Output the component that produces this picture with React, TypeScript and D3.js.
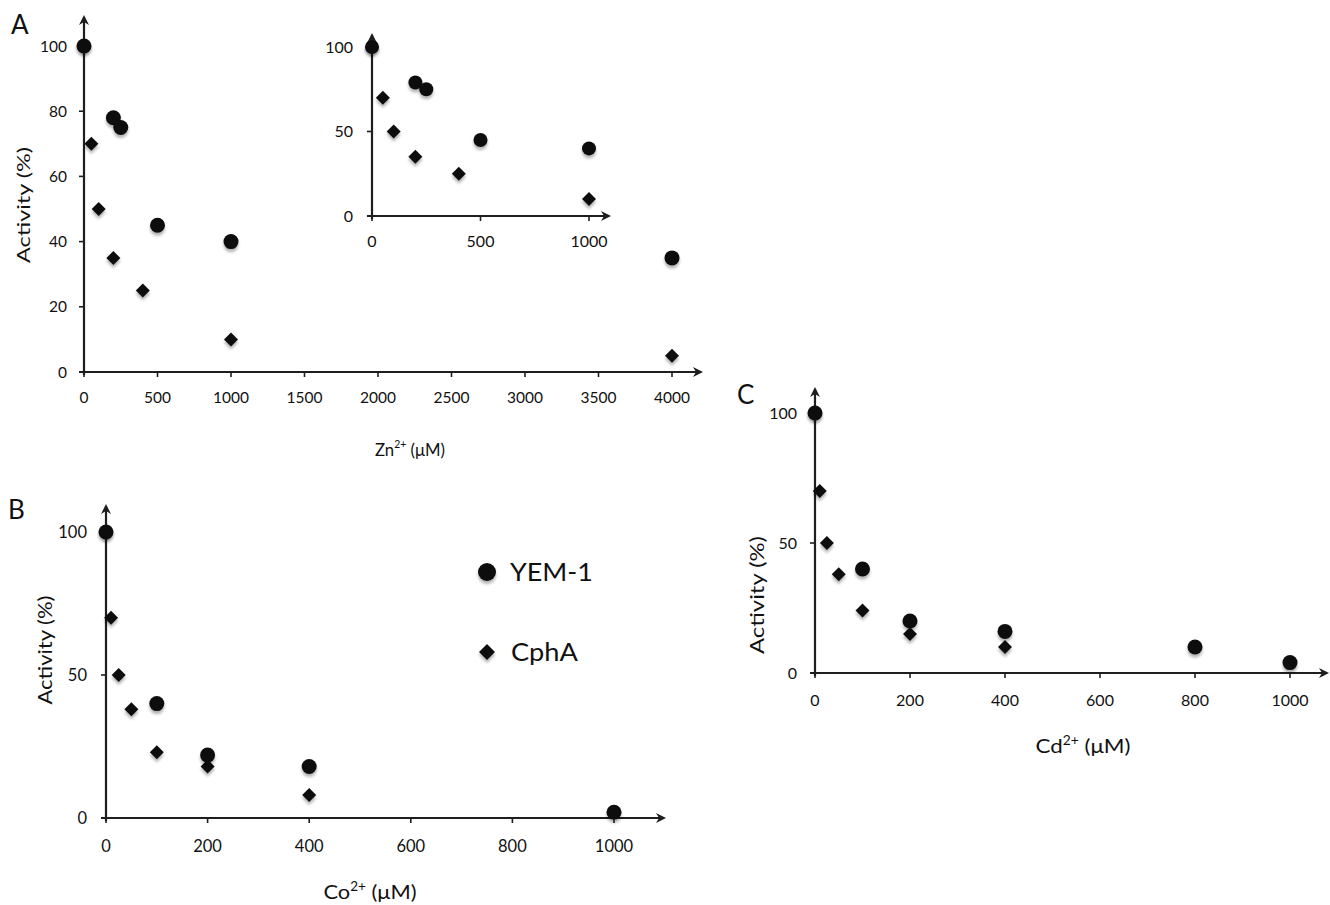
import React from "react";
import * as d3 from "d3";

// ---------- data ----------
const aYemConc = [0, 200, 250, 500, 1000, 4000];
const aYemAct = [100, 78, 75, 45, 40, 35];
const aCphConc = [0, 50, 100, 200, 400, 1000, 4000];
const aCphAct = [100, 70, 50, 35, 25, 10, 5];

const insetYemConc = [0, 200, 250, 500, 1000];
const insetYemAct = [100, 79, 75, 45, 40];
const insetCphConc = [0, 50, 100, 200, 400, 1000];
const insetCphAct = [100, 70, 50, 35, 25, 10];

const bYemConc = [0, 100, 200, 400, 1000];
const bYemAct = [100, 40, 22, 18, 2];
const bCphConc = [0, 10, 25, 50, 100, 200, 400];
const bCphAct = [100, 70, 50, 38, 23, 18, 8];

const cYemConc = [0, 100, 200, 400, 800, 1000];
const cYemAct = [100, 40, 20, 16, 10, 4];
const cCphConc = [0, 10, 25, 50, 100, 200, 400];
const cCphAct = [100, 70, 50, 38, 24, 15, 10];

const aXTicks = [0, 500, 1000, 1500, 2000, 2500, 3000, 3500, 4000];
const aYTicks = [0, 20, 40, 60, 80, 100];
const insetXTicks = [0, 500, 1000];
const halfYTicks = [0, 50, 100];
const bcXTicks = [0, 200, 400, 600, 800, 1000];

const legendLabels = ["YEM-1", "CphA"];

const FONT = "Lato, 'Open Sans', sans-serif";
const INK = "#111";
const AXIS = "#1e1e1e";

type PanelProps = {
  xDomain: [number, number];
  xRange: [number, number];
  yRange: [number, number];
  xTicks: number[];
  yTicks: number[];
  xEnd: number;
  yTop: number;
  yem: { c: number[]; v: number[] };
  cph: { c: number[]; v: number[] };
  r: number;
  d: number;
  fs: number;
  yLabelGap: number;
  xLabelOff: number;
};

function Diamond({ x, y, s }: { x: number; y: number; s: number }) {
  return (
    <path
      d={`M${x},${y - s}L${x + s},${y}L${x},${y + s}L${x - s},${y}Z`}
      fill={INK}
      filter="url(#shadow)"
    />
  );
}

function Panel(p: PanelProps) {
  const x = d3.scaleLinear().domain(p.xDomain).range(p.xRange);
  const y = d3.scaleLinear().domain([0, 100]).range(p.yRange);
  const x0 = x(0);
  const y0 = y(0);
  const ah = 7;
  return (
    <g>
      <line x1={x0} y1={y0 + 3} x2={x0} y2={p.yTop + 2} stroke={AXIS} strokeWidth={2.2} />
      <path d={`M${x0},${p.yTop}L${x0 - 5},${p.yTop + ah + 3}L${x0},${p.yTop + ah}L${x0 + 5},${p.yTop + ah + 3}Z`} fill={AXIS} />
      <line x1={x0 - 5} y1={y0} x2={p.xEnd - 2} y2={y0} stroke={AXIS} strokeWidth={2.2} />
      <path d={`M${p.xEnd},${y0}L${p.xEnd - ah - 3},${y0 - 5}L${p.xEnd - ah},${y0}L${p.xEnd - ah - 3},${y0 + 5}Z`} fill={AXIS} />
      {p.xTicks.map((t) => (
        <g key={"xt" + t}>
          <line x1={x(t)} x2={x(t)} y1={y0} y2={y0 + 5} stroke={AXIS} strokeWidth={1.6} />
          <text x={x(t)} y={y0 + p.xLabelOff} textAnchor="middle" fontSize={p.fs} fontFamily={FONT} fill={INK}>
            {t}
          </text>
        </g>
      ))}
      {p.yTicks.map((t) => (
        <g key={"yt" + t}>
          <line x1={x0 - 5} x2={x0} y1={y(t)} y2={y(t)} stroke={AXIS} strokeWidth={1.6} />
          <text x={x0 - p.yLabelGap} y={y(t) + p.fs * 0.36} textAnchor="end" fontSize={p.fs} fontFamily={FONT} fill={INK}>
            {t}
          </text>
        </g>
      ))}
      {p.cph.c.map((c, i) => (
        <Diamond key={"d" + i} x={x(c)} y={y(p.cph.v[i])} s={p.d} />
      ))}
      {p.yem.c.map((c, i) => (
        <circle key={"c" + i} cx={x(c)} cy={y(p.yem.v[i])} r={p.r} fill={INK} filter="url(#shadow)" />
      ))}
    </g>
  );
}

function XLabel({ x, y, ion, len, fs }: { x: number; y: number; ion: string; len: number; fs: number }) {
  return (
    <text x={x - len / 2} y={y} fontSize={fs} fontFamily={FONT} fill={INK} textLength={len} lengthAdjust="spacingAndGlyphs">
      {ion}
      <tspan fontSize={fs * 0.62} dy={-fs * 0.42}>2+</tspan>
      <tspan dy={fs * 0.42}> (μM)</tspan>
    </text>
  );
}

function YLabel({ x, y, len, fs }: { x: number; y: number; len: number; fs: number }) {
  return (
    <text
      transform={`translate(${x},${y}) rotate(-90)`}
      x={-len / 2}
      fontSize={fs}
      fontFamily={FONT}
      fill={INK}
      textLength={len}
      lengthAdjust="spacingAndGlyphs"
    >
      Activity (%)
    </text>
  );
}

export default function App() {
  return (
    <svg width={1330} height={905} style={{ position: "absolute", left: 0, top: 0, background: "#fff" }}>
      <defs>
        <filter id="shadow" x="-50%" y="-50%" width="200%" height="220%">
          <feGaussianBlur in="SourceAlpha" stdDeviation="1.6" />
          <feOffset dx="0" dy="2.5" result="b" />
          <feComponentTransfer>
            <feFuncA type="linear" slope="0.3" />
          </feComponentTransfer>
          <feMerge>
            <feMergeNode />
            <feMergeNode in="SourceGraphic" />
          </feMerge>
        </filter>
      </defs>
      <rect width={1330} height={905} fill="#fff" />

      {/* Panel A */}
      <text x={11} y={34} fontSize={26} fontFamily={FONT} fill={INK}>A</text>
      <Panel
        xDomain={[0, 4000]}
        xRange={[84, 672]}
        yRange={[372, 46]}
        xTicks={aXTicks}
        yTicks={aYTicks}
        xEnd={703}
        yTop={15}
        yem={{ c: aYemConc, v: aYemAct }}
        cph={{ c: aCphConc, v: aCphAct }}
        r={7.5}
        d={7}
        fs={15.5}
        yLabelGap={17}
        xLabelOff={31}
      />
      <YLabel x={30} y={205} len={116} fs={18} />
      <XLabel x={410} y={456} ion="Zn" len={70} fs={18} />

      {/* Inset */}
      <Panel
        xDomain={[0, 1000]}
        xRange={[372, 589]}
        yRange={[216, 47]}
        xTicks={insetXTicks}
        yTicks={halfYTicks}
        xEnd={611}
        yTop={33}
        yem={{ c: insetYemConc, v: insetYemAct }}
        cph={{ c: insetCphConc, v: insetCphAct }}
        r={7}
        d={7}
        fs={16}
        yLabelGap={19}
        xLabelOff={31}
      />

      {/* Panel B */}
      <text x={8} y={519} fontSize={26} fontFamily={FONT} fill={INK}>B</text>
      <Panel
        xDomain={[0, 1000]}
        xRange={[106, 614]}
        yRange={[818, 532]}
        xTicks={bcXTicks}
        yTicks={halfYTicks}
        xEnd={666}
        yTop={504}
        yem={{ c: bYemConc, v: bYemAct }}
        cph={{ c: bCphConc, v: bCphAct }}
        r={7.5}
        d={7}
        fs={16.5}
        yLabelGap={19}
        xLabelOff={34}
      />
      <YLabel x={52} y={650} len={109} fs={19} />
      <XLabel x={370} y={899} ion="Co" len={93} fs={20} />

      {/* Legend */}
      <g>
        <circle cx={487} cy={572} r={9} fill={INK} filter="url(#shadow)" />
        <text x={510} y={581} fontSize={25} fontFamily={FONT} fill={INK} textLength={83} lengthAdjust="spacingAndGlyphs">{legendLabels[0]}</text>
        <Diamond x={487} y={652} s={8} />
        <text x={511} y={661} fontSize={25} fontFamily={FONT} fill={INK} textLength={67} lengthAdjust="spacingAndGlyphs">{legendLabels[1]}</text>
      </g>

      {/* Panel C */}
      <text x={737} y={404} fontSize={26} fontFamily={FONT} fill={INK}>C</text>
      <Panel
        xDomain={[0, 1000]}
        xRange={[815, 1290]}
        yRange={[673, 413]}
        xTicks={bcXTicks}
        yTicks={halfYTicks}
        xEnd={1329}
        yTop={387}
        yem={{ c: cYemConc, v: cYemAct }}
        cph={{ c: cCphConc, v: cCphAct }}
        r={7.5}
        d={7}
        fs={16}
        yLabelGap={18}
        xLabelOff={33}
      />
      <YLabel x={764} y={595} len={118} fs={19} />
      <XLabel x={1083} y={753} ion="Cd" len={95} fs={20} />
    </svg>
  );
}
